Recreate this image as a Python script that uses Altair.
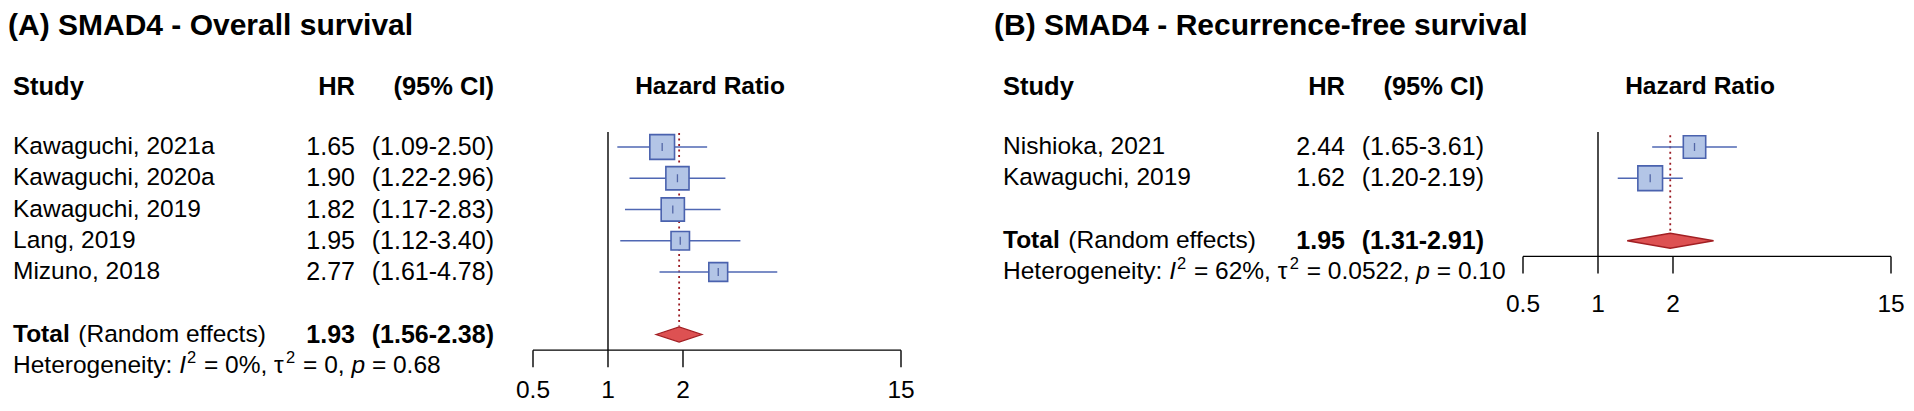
import altair as alt
import pandas as pd

# ---------------- data ----------------
a_title = "(A) SMAD4 - Overall survival"
a_studies = ["Kawaguchi, 2021a", "Kawaguchi, 2020a", "Kawaguchi, 2019", "Lang, 2019", "Mizuno, 2018"]
a_hr = [1.65, 1.90, 1.82, 1.95, 2.77]
a_lo = [1.09, 1.22, 1.17, 1.12, 1.61]
a_hi = [2.50, 2.96, 2.83, 3.40, 4.78]
a_weight = [25.6, 22.5, 22.6, 14.3, 14.9]
a_total = [1.93, 1.56, 2.38]
a_het = ["0%", "0", "0.68"]

b_title = "(B) SMAD4 - Recurrence-free survival"
b_studies = ["Nishioka, 2021", "Kawaguchi, 2019"]
b_hr = [2.44, 1.62]
b_lo = [1.65, 1.20]
b_hi = [3.61, 2.19]
b_weight = [45.1, 54.9]
b_total = [1.95, 1.31, 2.91]
b_het = ["62%", "0.0522", "0.10"]

tick_values = [0.5, 1, 2, 15]
tick_labels = ["0.5", "1", "2", "15"]

# ---------------- style ----------------
FONT = "Liberation Sans"
FS = 24.5      # body text
FSN = 25       # numeric columns
FSH = 25.5     # header
FST = 30       # panel title
SUP = 16.5
BOX_FILL = "#b3c5e6"
BOX_EDGE = "#4a62ae"
CI_COL = "#4f67b3"
EST_COL = "#2b3f8c"
DIA_FILL = "#dd5152"
DIA_EDGE = "#a21f23"
REF_COL = "#9b1c24"

W, H = 1898, 395
yscale = alt.Scale(domain=[0, 8], range=[139, 389], nice=False, zero=False)

# Arial advance widths (per 1000 em)
AR = {' ': 278, '%': 889, '(': 333, ')': 333, ',': 278, '-': 333, '.': 278, ':': 278, '=': 584,
      'H': 722, 'I': 278, 'R': 722, 'T': 611, 'a': 556, 'c': 500, 'd': 556, 'e': 556, 'f': 278,
      'g': 556, 'i': 222, 'l': 222, 'm': 833, 'n': 556, 'o': 556, 'p': 556, 'r': 333, 's': 500,
      't': 278, 'y': 500, '\u03c4': 450}
ARB = dict(AR, **{'T': 611, 'o': 611, 't': 333, 'a': 556, 'l': 278, ' ': 278})
for d in "0123456789":
    AR[d] = 556
    ARB[d] = 556


def tw(s, size, bold=False):
    tab = ARB if bold else AR
    return sum(tab.get(c, 556) for c in s) * size / 1000.0


def Y(row):
    return alt.Y(datum=row, type="quantitative", scale=yscale, axis=None)


def text_layer(df, x, align="left", bold=False, italic=False, size=FS, dy=0, baseline="middle"):
    return alt.Chart(df).mark_text(
        align=align, baseline=baseline, font=FONT, fontSize=size, dy=dy,
        fontWeight="bold" if bold else "normal",
        fontStyle="italic" if italic else "normal", color="black",
    ).encode(x=alt.value(x), y=alt.Y("row:Q", scale=yscale, axis=None), text="t:N")


def single_text(txt, row, x, **kw):
    return text_layer(pd.DataFrame({"t": [txt], "row": [row]}), x, **kw)


def panel(off, title, studies, hr, lo, hi, weight, total, het):
    n = len(studies)
    total_row = n + 1
    het_row = n + 2
    axis_row = n + 1.5
    lab_row = min(axis_row + 1.79, 8.016)   # baseline of tick labels
    xs = alt.Scale(type="log", domain=[0.5, 15], range=[525 + off, 893 + off], nice=False)

    def X(field=None, datum=None):
        if datum is not None:
            return alt.X(datum=datum, type="quantitative", scale=xs, axis=None)
        return alt.X(field, type="quantitative", scale=xs, axis=None)

    wmax = max(weight)
    rows = pd.DataFrame({
        "study": studies, "hr": hr, "lo": lo, "hi": hi,
        "relw": [w / wmax for w in weight], "row": list(range(n)),
        "hr_t": [f"{v:.2f}" for v in hr],
        "ci_t": [f"({a:.2f}-{b:.2f})" for a, b in zip(lo, hi)],
    })
    layers = []
    x_text = 5 + off
    x_hr = 347 + off
    x_ci = 486 + off

    # texts
    layers.append(single_text(title, -3.58, max(off - 4, 0), bold=True, size=FST,
                              baseline="alphabetic"))
    layers.append(single_text("Study", -1.92, x_text, bold=True, size=FSH))
    layers.append(single_text("HR", -1.92, x_hr, align="right", bold=True, size=FSH))
    layers.append(single_text("(95% CI)", -1.92, x_ci, align="right", bold=True, size=FSH))
    layers.append(single_text("Hazard Ratio", -1.92, 702 + off, align="center", bold=True, size=24.5))
    layers.append(text_layer(rows.assign(t=rows["study"]), x_text))
    layers.append(text_layer(rows.assign(t=rows["hr_t"]), x_hr, align="right", size=FSN))
    layers.append(text_layer(rows.assign(t=rows["ci_t"]), x_ci, align="right", size=FSN))
    layers.append(single_text("Total", total_row, x_text, bold=True))
    layers.append(single_text("(Random effects)", total_row,
                              x_text + tw("Total ", FS, True)))
    layers.append(single_text(f"{total[0]:.2f}", total_row, x_hr, align="right", bold=True, size=FSN))
    layers.append(single_text(f"({total[1]:.2f}-{total[2]:.2f})", total_row, x_ci,
                              align="right", bold=True, size=FSN))
    # heterogeneity line, piece by piece (SVG drops leading/trailing blanks,
    # so blanks only advance the pen)
    pieces = [("Heterogeneity: ", "n"), ("I", "i"), ("2", "s"), (f" = {het[0]}, ", "n"),
              ("\u03c4", "n"), ("2", "s"), (f" = {het[1]}, ", "n"), ("p", "i"),
              (f" = {het[2]}", "n")]
    cx = x_text
    for s, kind in pieces:
        size = SUP if kind == "s" else FS
        lead = len(s) - len(s.lstrip(" "))
        cx += tw(" " * lead, size)
        core = s.strip(" ")
        if kind == "s":
            layers.append(single_text(core, het_row, cx + 1, size=SUP, baseline="alphabetic", dy=-3))
            cx += tw(core, SUP) + 2
        else:
            layers.append(single_text(core, het_row, cx, italic=(kind == "i")))
            cx += tw(core, FS)
        cx += tw(" " * (len(s) - lead - len(core)), size)

    # reference line at 1
    layers.append(alt.Chart(pd.DataFrame({"v": [1]})).mark_rule(color="black", strokeWidth=1.4)
                  .encode(x=X("v"), y=Y(-0.48), y2=alt.Y2(datum=axis_row)))
    # pooled estimate dotted line
    layers.append(alt.Chart(pd.DataFrame({"v": [total[0]]}))
                  .mark_rule(color=REF_COL, strokeWidth=1.8, strokeDash=[2, 3.5])
                  .encode(x=X("v"), y=Y(-0.45 if n > 2 else -0.38), y2=alt.Y2(datum=total_row - 0.26)))
    # confidence intervals
    layers.append(alt.Chart(rows).mark_rule(color=CI_COL, strokeWidth=1.7)
                  .encode(x=X("lo"), x2="hi", y=alt.Y("row:Q", scale=yscale, axis=None)))
    # boxes (area proportional to weight)
    layers.append(alt.Chart(rows).mark_square(fill=BOX_FILL, stroke=BOX_EDGE, strokeWidth=1.6,
                                              opacity=1, fillOpacity=1)
                  .encode(x=X("hr"), y=alt.Y("row:Q", scale=yscale, axis=None),
                          size=alt.Size("relw:Q", scale=alt.Scale(domain=[0, 1], range=[0, 610]),
                                        legend=None)))
    # point estimate ticks
    layers.append(alt.Chart(rows).mark_tick(orient="vertical", color=EST_COL, size=8, thickness=1.3)
                  .encode(x=X("hr"), y=alt.Y("row:Q", scale=yscale, axis=None)))
    # diamond
    dia = pd.DataFrame({
        "x": [total[1], total[0], total[2]],
        "y1": [total_row, total_row - 0.24, total_row],
        "y2": [total_row, total_row + 0.24, total_row],
    })
    layers.append(alt.Chart(dia).mark_area(orient="vertical", fill=DIA_FILL, stroke=DIA_EDGE,
                                           strokeWidth=1.3, fillOpacity=1, opacity=1)
                  .encode(x=X("x"), y=alt.Y("y1:Q", scale=yscale, axis=None), y2="y2"))
    # axis
    layers.append(alt.Chart(pd.DataFrame({"a": [tick_values[0]], "b": [tick_values[-1]]}))
                  .mark_rule(color="black", strokeWidth=1.4)
                  .encode(x=X("a"), x2="b", y=Y(axis_row)))
    tdf = pd.DataFrame({"v": tick_values, "t": tick_labels})
    layers.append(alt.Chart(tdf).mark_rule(color="black", strokeWidth=1.4)
                  .encode(x=X("v"), y=Y(axis_row), y2=alt.Y2(datum=axis_row + 0.55)))
    layers.append(alt.Chart(tdf.assign(row=lab_row)).mark_text(font=FONT, fontSize=24.5, color="black",
                                                               baseline="alphabetic", align="center")
                  .encode(x=X("v"), y=alt.Y("row:Q", scale=yscale, axis=None), text="t:N"))
    return alt.layer(*layers)


pa = panel(0, a_title, a_studies, a_hr, a_lo, a_hi, a_weight, a_total, a_het)
pb = panel(990, b_title, b_studies, b_hr, b_lo, b_hi, b_weight, b_total, b_het)

chart = alt.layer(pa, pb).resolve_scale(x="independent").properties(
    width=W, height=H, padding=0, autosize=alt.AutoSizeParams(type="none"),
    background="white",
).configure_view(stroke=None)

chart.save("out.html", embed_options={"renderer": "svg", "actions": False})
